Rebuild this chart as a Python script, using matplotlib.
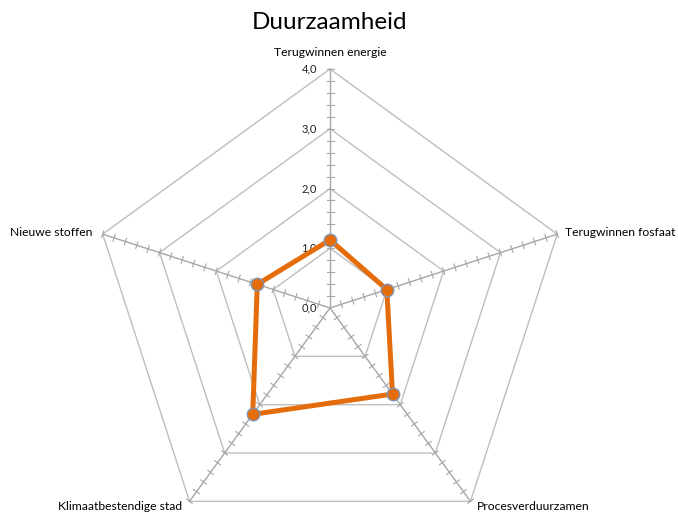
import numpy as np
import matplotlib.pyplot as plt

plt.rcParams['font.family'] = ['Lato', 'DejaVu Sans']

# data
categories = ['Terugwinnen energie', 'Terugwinnen fosfaat', 'Procesverduurzamen',
              'Klimaatbestendige stad', 'Nieuwe stoffen']
values = [1.14, 1.0, 1.78, 2.2, 1.28]
rings = [1, 2, 3, 4]
tick_labels = ['0,0', '1,0', '2,0', '3,0', '4,0']
title = 'Duurzaamheid'

px = 59.75  # pixels per unit
W, H = 678, 513
cx, cy = 330, 308

fig = plt.figure(figsize=(W / 100, H / 100), dpi=100)
ax = fig.add_axes([0, 0, 1, 1])
ax.set_xlim(-cx / px, (W - cx) / px)
ax.set_ylim(-(H - cy) / px, cy / px)
ax.axis('off')

n = len(categories)
ang = np.pi / 2 - np.arange(n) * 2 * np.pi / n
ux, uy = np.cos(ang), np.sin(ang)
rmax = rings[-1]

# grid rings
for r in rings:
    ax.plot(np.append(ux, ux[0]) * r, np.append(uy, uy[0]) * r,
            color='#BEBEBE', lw=1.0, zorder=1)

# spokes with minor ticks
minor = np.arange(0.2, rmax + 0.01, 0.2)
tl = 3.5 / px
for i in range(n):
    ax.plot([0, ux[i] * rmax], [0, uy[i] * rmax], color='#A6A6A6', lw=1.0, zorder=1)
    for m in minor:
        px_, py_ = ux[i] * m, uy[i] * m
        nx, ny = -uy[i], ux[i]
        ax.plot([px_ - nx * tl, px_ + nx * tl], [py_ - ny * tl, py_ + ny * tl],
                color='#A6A6A6', lw=0.8, zorder=1)

# value axis labels
for k, lab in enumerate(tick_labels):
    ax.text(-13 / px, k, lab, ha='right', va='center', fontsize=8, color='#222222')

# category labels
fs = 8.7
off = 8 / px
bottom = -(H - cy) / px + 1.5 / px
ax.text(0, rmax + 17 / px, categories[0], ha='center', va='center', fontsize=fs)
ax.text(ux[1] * rmax + off, uy[1] * rmax + 2 / px, categories[1], ha='left', va='center', fontsize=fs)
ax.text(ux[2] * rmax + 6 / px, bottom, categories[2], ha='left', va='bottom', fontsize=fs)
ax.text(ux[3] * rmax - 7 / px, bottom, categories[3], ha='right', va='bottom', fontsize=fs)
ax.text(ux[4] * rmax - 10 / px, uy[4] * rmax + 2 / px, categories[4], ha='right', va='center', fontsize=fs)

# series
v = np.array(values)
xs = np.append(ux * v, ux[0] * v[0])
ys = np.append(uy * v, uy[0] * v[0])
ax.plot(xs, ys, color='#E46C0A', lw=3.6, zorder=3, solid_joinstyle='miter')
ax.plot(ux * v, uy * v, 'o', ms=9, color='#E46C0A', mec='#7F96B8', mew=1.0, zorder=4)

fig.text(329 / W, 1 - 23 / H, title, ha='center', va='center', fontsize=17.5)

fig.savefig('out.png', dpi=100)
